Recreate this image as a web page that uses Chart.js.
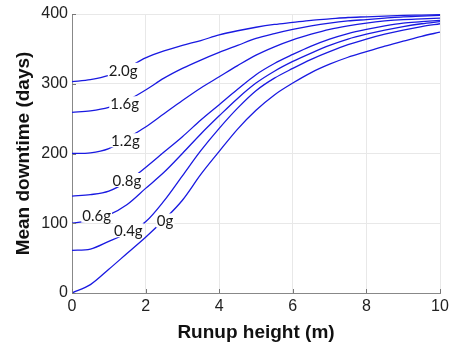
<!DOCTYPE html>
<html>
<head>
<meta charset="utf-8">
<script src="https://cdn.jsdelivr.net/npm/chart.js@4.4.1/dist/chart.umd.min.js"></script>
<style>
  html, body { margin: 0; padding: 0; background: #fff; }
  #wrap { width: 453px; height: 344px; }
</style>
</head>
<body>
<div id="wrap"><canvas id="chart" width="453" height="344"></canvas></div>
<script>
// Runup height (m) sampled every 0.5 m
const runup = [0, 0.5, 1, 1.5, 2, 2.5, 3, 3.5, 4, 4.5, 5, 5.5, 6, 6.5, 7, 7.5, 8, 8.5, 9, 9.5, 10];

// Mean downtime (days) per ground-motion level
const g0   = [0, 12, 34, 57, 80, 105, 133, 170, 203, 235, 262, 284, 301, 316, 328, 338, 346, 354, 361, 368, 374];
const g0_4 = [61, 63, 74, 86, 102, 132, 168, 204, 236, 265, 290, 308, 322, 335, 346, 356, 364, 371, 377, 382, 386];
const g0_6 = [100, 104, 112, 127, 150, 173, 200, 228, 254, 279, 301, 318, 332, 344, 355, 364, 371, 377, 382, 386, 389];
const g0_8 = [139, 141, 146, 160, 180, 202, 224, 248, 270, 292, 313, 329, 342, 354, 364, 372, 378, 383, 387, 389, 391];
const g1_2 = [200, 201, 207, 222, 238, 257, 276, 294, 310, 326, 341, 353, 363, 371, 378, 383, 387, 390, 392, 393, 394];
const g1_6 = [259, 261, 266, 276, 291, 308, 322, 334, 345, 355, 365, 372, 378, 383, 387, 390, 392, 394, 396, 397, 398];
const g2_0 = [303, 306, 312, 323, 337, 347, 355, 362, 370, 376, 381, 385, 388, 391, 393, 395, 396, 397, 398, 398.5, 399];

const seriesNames = ['0g', '0.4g', '0.6g', '0.8g', '1.2g', '1.6g', '2.0g'];
const seriesValues = [g0, g0_4, g0_6, g0_8, g1_2, g1_6, g2_0];

// inline label anchors (data units)
const labelX = [2.53, 1.53, 0.67, 1.49, 1.45, 1.43, 1.39];
const labelY = [104, 90, 111, 162, 219, 272, 320];

const xTicks = [0, 2, 4, 6, 8, 10];
const yTicks = [0, 100, 200, 300, 400];

const LINE_COLOR = 'rgb(25,25,225)';

function buildDatasets() {
    return seriesNames.map((name, i) => ({
        label: name,
        data: runup.map((x, j) => ({ x: x, y: seriesValues[i][j] })),
        borderColor: LINE_COLOR,
        backgroundColor: LINE_COLOR,
        borderWidth: 1.3,
        pointRadius: 0,
        cubicInterpolationMode: 'monotone',
        fill: false
    }));
}

// draws the "0g", "0.4g"... labels on the curves, blanking the line underneath
const inlineLabels = {
    id: 'inlineLabels',
    afterDatasetsDraw(chart) {
        const { ctx, scales } = chart;
        ctx.save();
        ctx.font = '15px Lato, "Open Sans", sans-serif';
        ctx.textAlign = 'center';
        ctx.textBaseline = 'middle';
        seriesNames.forEach((name, i) => {
            const px = scales.x.getPixelForValue(labelX[i]);
            const py = scales.y.getPixelForValue(labelY[i]);
            const w = ctx.measureText(name).width;
            ctx.fillStyle = '#fff';
            ctx.fillRect(px - w / 2 - 1, py - 7, w + 2, 14);
            ctx.fillStyle = '#1a1a1a';
            ctx.fillText(name, px, py + 1);
        });
        ctx.restore();
    }
};

// small inward tick marks, matlab style
const innerTicks = {
    id: 'innerTicks',
    afterDraw(chart) {
        const { ctx, scales, chartArea } = chart;
        ctx.save();
        ctx.strokeStyle = '#777';
        ctx.lineWidth = 1;
        ctx.beginPath();
        xTicks.forEach(v => {
            const px = Math.round(scales.x.getPixelForValue(v)) + 0.5;
            ctx.moveTo(px, chartArea.bottom);
            ctx.lineTo(px, chartArea.bottom - 4);
        });
        yTicks.forEach(v => {
            const py = Math.round(scales.y.getPixelForValue(v)) + 0.5;
            ctx.moveTo(chartArea.left, py);
            ctx.lineTo(chartArea.left + 4, py);
        });
        ctx.stroke();
        ctx.restore();
    }
};

const tickFont = { family: '"Liberation Sans", Arial, sans-serif', size: 16 };
const xTitleFont = { family: '"Liberation Sans", Arial, sans-serif', size: 19, weight: 'bold' };
const yTitleFont = { family: '"Liberation Sans", Arial, sans-serif', size: 19, weight: 'bold' };

new Chart(document.getElementById('chart'), {
    type: 'line',
    data: { datasets: buildDatasets() },
    options: {
        responsive: false,
        animation: false,
        layout: { padding: { top: 14, right: 13, left: 12, bottom: 0 } },
        plugins: {
            legend: { display: false },
            tooltip: { enabled: false }
        },
        scales: {
            x: {
                type: 'linear',
                min: 0,
                max: 10,
                afterBuildTicks: axis => { axis.ticks = xTicks.map(v => ({ value: v })); },
                afterFit: axis => { axis.height = 51; },
                grid: { color: '#e8e8e8', drawTicks: false },
                border: { color: '#888', width: 1 },
                ticks: { font: tickFont, color: '#222', padding: 4, maxRotation: 0 },
                title: { display: true, text: 'Runup height (m)', font: xTitleFont, color: '#111', padding: { top: 0, bottom: 0 } }
            },
            y: {
                min: 0,
                max: 400,
                afterBuildTicks: axis => { axis.ticks = yTicks.map(v => ({ value: v })); },
                afterFit: axis => { axis.width = 60; },
                grid: { color: '#e8e8e8', drawTicks: false },
                border: { color: '#888', width: 1 },
                ticks: { font: tickFont, color: '#222', padding: 4 },
                title: { display: true, text: 'Mean downtime (days)', font: yTitleFont, color: '#111', padding: { top: 0, bottom: 0 } }
            }
        }
    },
    plugins: [inlineLabels, innerTicks]
});
</script>
</body>
</html>
